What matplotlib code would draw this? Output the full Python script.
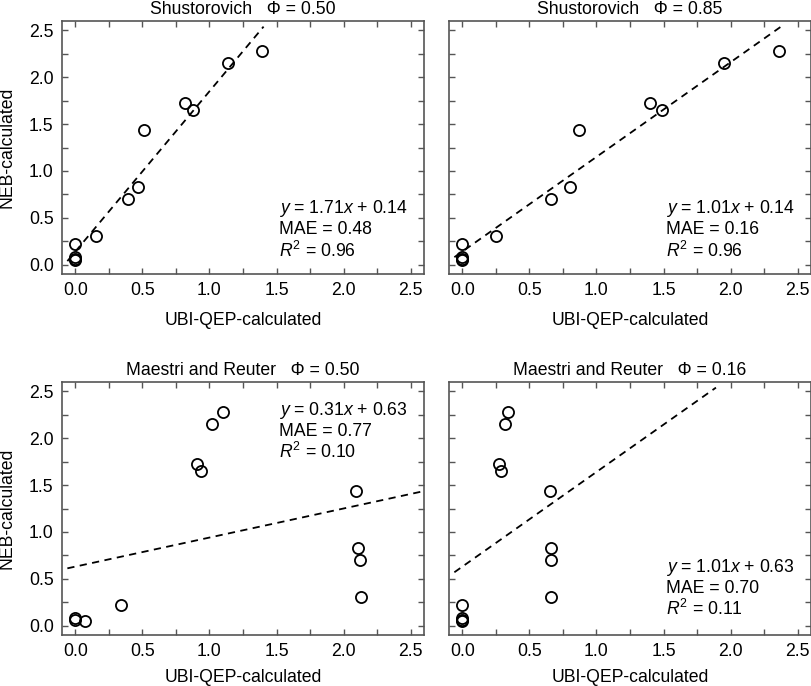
#!/usr/bin/python3
import numpy as np
import matplotlib
matplotlib.use('Agg')
import matplotlib.pyplot as plt
from matplotlib.ticker import MultipleLocator, FormatStrFormatter

plt.rcParams['font.family'] = ['Liberation Sans', 'DejaVu Sans']
plt.rcParams['mathtext.fontset'] = 'custom'
plt.rcParams['mathtext.rm'] = 'Liberation Sans'
plt.rcParams['mathtext.it'] = 'Liberation Sans:italic'

# NEB-calculated values (same in every panel)
neb = [0.22, 0.08, 0.06, 0.05, 0.31, 0.70, 0.83, 1.44, 1.73, 1.65, 2.15, 2.28]

# UBI-QEP-calculated values per panel
ubi_shus_050 = [0.00, 0.00, 0.00, 0.00, 0.15, 0.39, 0.47, 0.51, 0.82, 0.88, 1.14, 1.39]
ubi_shus_085 = [0.00, 0.00, 0.00, 0.00, 0.25, 0.66, 0.80, 0.87, 1.40, 1.49, 1.95, 2.36]
ubi_mr_050 = [0.34, 0.00, 0.00, 0.07, 2.13, 2.12, 2.11, 2.09, 0.91, 0.94, 1.02, 1.10]
ubi_mr_016 = [0.00, 0.00, 0.00, 0.00, 0.66, 0.66, 0.66, 0.65, 0.27, 0.29, 0.32, 0.34]

titles = ['Shustorovich   \u03a6 = 0.50', 'Shustorovich   \u03a6 = 0.85',
          'Maestri and Reuter   \u03a6 = 0.50', 'Maestri and Reuter   \u03a6 = 0.16']
slopes = [1.71, 1.01, 0.31, 1.01]
intercepts = [0.14, 0.14, 0.63, 0.63]
maes = ['0.48', '0.16', '0.77', '0.70']
r2s = ['0.96', '0.96', '0.10', '0.11']
ubi_all = [ubi_shus_050, ubi_shus_085, ubi_mr_050, ubi_mr_016]

fig = plt.figure(figsize=(8.12, 6.86), dpi=100)
W, H = 812.0, 686.0
boxes = [(62, 21), (449, 21), (62, 382), (449, 382)]
text_pos = [(0.60, 0.30), (0.60, 0.30), (0.60, 0.93), (0.60, 0.31)]
spine_col = '#555555'
fs = 12.7

for i in range(4):
    x0, y0 = boxes[i]
    ax = fig.add_axes([x0 / W, (H - y0 - 253) / H, 362 / W, 253 / H])
    a, b = slopes[i], intercepts[i]
    # fitted line, drawn up to about y = 2.54 like the original
    x_end = min(2.6, (2.54 - b) / a)
    xl = np.array([-0.06, x_end])
    ax.plot(xl, a * xl + b, ls=(0, (4, 3)), color='black', lw=1.3)
    ax.plot(ubi_all[i], neb, 'o', ms=8, mfc='none', mec='black', mew=1.3)
    ax.set_xlim(-0.1, 2.6)
    ax.set_ylim(-0.1, 2.6)
    ax.xaxis.set_major_locator(MultipleLocator(0.5))
    ax.yaxis.set_major_locator(MultipleLocator(0.5))
    ax.xaxis.set_minor_locator(MultipleLocator(0.25))
    ax.yaxis.set_minor_locator(MultipleLocator(0.25))
    ax.tick_params(which='both', direction='in', top=True, right=True,
                   length=4, width=1, color=spine_col, labelsize=fs, pad=6)
    ax.xaxis.set_major_formatter(FormatStrFormatter('%.1f'))
    ax.yaxis.set_major_formatter(FormatStrFormatter('%.1f'))
    for s in ax.spines.values():
        s.set_color(spine_col)
        s.set_linewidth(1.2)
    ax.set_title(titles[i], fontsize=fs, pad=5)
    ax.set_xlabel('UBI-QEP-calculated', fontsize=fs,
                  labelpad=9 if i < 2 else 6)
    if i % 2 == 0:
        ax.set_ylabel('NEB-calculated', fontsize=fs)
        ax.yaxis.set_label_coords(-0.128, 0.5)
    else:
        ax.tick_params(labelleft=False)
    txt = ('$y$ = %.2f$x$ + %.2f\nMAE = %s\n$R^2$ = %s'
           % (a, b, maes[i], r2s[i]))
    ax.text(text_pos[i][0], text_pos[i][1], txt, transform=ax.transAxes,
            fontsize=fs, va='top', ha='left', linespacing=1.15)

fig.savefig('out.png', dpi=100)
